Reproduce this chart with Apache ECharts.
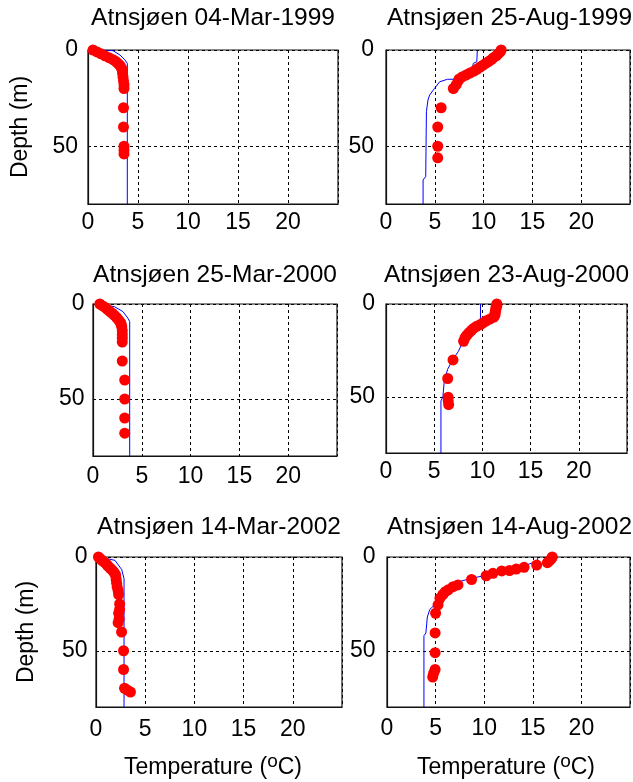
<!DOCTYPE html>
<html>
<head>
<meta charset="utf-8">
<script src="https://cdn.jsdelivr.net/npm/echarts@6/dist/echarts.min.js"></script>
<style>html,body{margin:0;padding:0;background:#fff}#c{width:633px;height:782px}</style>
</head>
<body>
<div id="c"></div>
<script>
// ---------- DATA ----------
const titles = ['Atnsjøen 04-Mar-1999','Atnsjøen 25-Aug-1999','Atnsjøen 25-Mar-2000','Atnsjøen 23-Aug-2000','Atnsjøen 14-Mar-2002','Atnsjøen 14-Aug-2002'];
const xTicks = [0,5,10,15,20];
const yTicks = [0,50];
const yLabel = 'Depth (m)';

// observations: [temperature, depth]
const obs1 = [[0.5,0],[0.9,1],[1.3,2],[1.7,3],[2.1,4],[2.5,5],[2.8,6],[3.0,7],[3.2,8],[3.3,9],[3.4,10],[3.45,12],[3.5,14],[3.55,16],[3.6,18],[3.6,20],[3.55,30],[3.55,40],[3.6,50],[3.6,52],[3.6,54]];
const obs2 = [[11.8,0],[11.7,1],[11.5,2],[11.3,3],[11.0,4],[10.8,5],[10.5,6],[10.2,7],[9.9,8],[9.6,9],[9.3,10],[9.0,11],[8.6,12],[8.2,13],[7.8,14],[7.5,15],[7.4,16],[7.2,18],[6.9,20],[5.65,30],[5.3,40],[5.3,50],[5.3,56]];
const obs3 = [[0.7,0],[1.0,1],[1.3,2],[1.5,3],[1.75,4],[2.0,5],[2.2,6],[2.4,7],[2.55,8],[2.7,9],[2.85,10],[2.9,11],[2.95,12],[3.0,14],[3.0,16],[3.0,18],[3.0,20],[3.0,30],[3.25,40],[3.25,50],[3.25,60],[3.25,68]];
const obs4 = [[11.5,0],[11.5,1],[11.4,2],[11.4,3],[11.35,4],[11.3,5],[11.3,6],[11.2,7],[10.8,8],[10.4,9],[10.1,10],[9.8,11],[9.4,12],[9.1,13],[8.9,14],[8.7,15],[8.5,16],[8.35,17],[8.2,18],[8.05,20],[6.95,30],[6.4,40],[6.45,50],[6.45,52],[6.5,54]];
const obs5 = [[0.25,0],[0.45,1],[0.65,2],[0.9,3],[1.1,4],[1.25,5],[1.45,6],[1.65,7],[1.8,8],[1.95,9],[2.0,10],[2.05,12],[2.1,14],[2.15,16],[2.25,18],[2.3,20],[2.4,25],[2.4,28],[2.3,30],[2.35,33],[2.25,35],[2.6,40],[2.8,50],[2.8,60],[2.9,70],[3.2,71],[3.5,72]];
const obs6 = [[17.0,0],[16.9,1],[16.7,2],[16.5,3],[15.4,4.3],[14.1,5.5],[13.3,6.4],[12.6,7.2],[11.8,7.4],[10.9,8.7],[10.2,10],[8.7,12],[7.3,14.9],[6.8,15.8],[6.3,17.5],[6.0,18.5],[5.75,20],[5.45,22],[5.25,25.5],[5.0,30],[4.95,40.5],[4.95,51],[4.95,60],[4.8,62],[4.7,64]];

// model profiles: [temperature, depth]
const mod1 = [[1.0,0],[2.5,0.35],[3.2,2.6],[3.7,5.2],[3.93,6.9],[3.93,80]];
const mod2 = [[9.36,0],[9.3,6.1],[8.95,6.9],[8.8,10.8],[8.7,14.0],[8.2,15.2],[6.3,15.2],[5.5,16.5],[4.98,19.9],[4.47,23.4],[4.3,26],[4.14,32],[4.07,65.8],[3.8,67.5],[3.8,80]];
const mod3 = [[0.2,0],[2.2,1.4],[3.07,4],[3.58,7.5],[3.76,9.3],[3.76,80]];
const mod4 = [[9.8,0],[9.8,7.7],[9.4,12],[8.6,16],[8.0,20],[7.5,25.5],[6.9,30],[6.4,35],[6.05,41],[5.9,50],[5.7,52],[5.7,80]];
const mod5 = [[0.4,0],[1.93,1.8],[2.61,6.7],[2.85,11.5],[2.85,80]];
const mod6 = [[15.5,0],[15.5,2],[14.5,4],[13.0,6],[11.0,8],[10.0,10],[9.0,11],[7.5,13],[6.5,16],[5.6,20],[5.0,25],[4.4,28],[4.15,32],[4.0,40.5],[3.8,42],[3.8,80]];

const observations = [obs1,obs2,obs3,obs4,obs5,obs6];
const models = [mod1,mod2,mod3,mod4,mod5,mod6];

// ---------- LAYOUT ----------
const FONT = 'Liberation Sans, Arial, Helvetica, sans-serif';
const FS = 23;
const TFS = 24.5;
const panels = [
  {l:88, t:50, w:250, h:154, mx:7.5, my:10, ty:18.5},
  {l:386, t:50, w:247, h:154, mx:7.5, my:12, ty:18.5},
  {l:93, t:304, w:244, h:152, mx:9.5, my:8.5, ty:275.5},
  {l:386, t:304, w:241, h:149, mx:7.5, my:11, ty:275.5},
  {l:96, t:557, w:246, h:150, mx:11, my:8.5, ty:527},
  {l:387, t:557, w:245, h:150, mx:10, my:11.5, ty:527}
];

const grid = [], xAxis = [], yAxis = [], series = [], graphic = [];
panels.forEach((p, i) => {
  grid.push({left:p.l, top:p.t, width:p.w, height:p.h, show:true, borderColor:'#111', borderWidth:1.2, backgroundColor:'transparent', containLabel:false});
  xAxis.push({
    gridIndex:i, type:'value', min:0, max:25, interval:5,
    axisLine:{show:true, onZero:false, lineStyle:{color:'#111', width:1.2}},
    axisTick:{show:false},
    axisLabel:{color:'#000', fontSize:FS, fontFamily:FONT, margin:p.mx, formatter:v => xTicks.includes(v) ? String(v) : ''},
    splitLine:{show:true, lineStyle:{color:'#000', width:1, type:[3,3]}}
  });
  yAxis.push({
    gridIndex:i, type:'value', min:0, max:80, interval:50, inverse:true,
    axisLine:{show:true, onZero:false, lineStyle:{color:'#111', width:1.2}},
    axisTick:{show:false},
    axisLabel:{color:'#000', fontSize:FS, fontFamily:FONT, margin:p.my, formatter:v => yTicks.includes(v) ? String(v) : ''},
    splitLine:{show:true, lineStyle:{color:'#000', width:1, type:[3,3]}}
  });
  series.push({
    type:'line', xAxisIndex:i, yAxisIndex:i, data:models[i], symbol:'none', showSymbol:false,
    lineStyle:{color:'#0000ff', width:1}, z:2, animation:false, silent:true
  });
  series.push({
    type:'scatter', xAxisIndex:i, yAxisIndex:i, data:observations[i], symbol:'circle', symbolSize:11,
    itemStyle:{color:'#ff0000', opacity:1}, z:3, animation:false, silent:true
  });
  graphic.push({
    type:'text', x:p.l + p.w/2, y:p.ty,
    style:{text:titles[i], font:TFS + 'px ' + FONT, fill:'#000', align:'center', verticalAlign:'middle', textAlign:'center', textVerticalAlign:'middle'}
  });
});

// y labels
[[21, 127],[27, 632]].forEach(([x, y]) => {
  graphic.push({type:'text', x:x, y:y, rotation:Math.PI/2,
    style:{text:yLabel, font:FS + 'px ' + FONT, fill:'#000', align:'center', verticalAlign:'middle', textAlign:'center', textVerticalAlign:'middle'}});
});
// x labels
[[213, 768],[506, 768]].forEach(([x, y]) => {
  graphic.push({type:'text', x:x, y:y,
    style:{text:'{a|Temperature (}{s|o}{a|C)}', fill:'#000', align:'center', verticalAlign:'middle', textAlign:'center', textVerticalAlign:'middle',
      rich:{a:{fontSize:FS, fontFamily:FONT, lineHeight:32, fill:'#000', color:'#000'}, s:{fontSize:19, fontFamily:FONT, lineHeight:15, verticalAlign:'top', fill:'#000', color:'#000'}}}});
});

const chart = echarts.init(document.getElementById('c'), null, {renderer:'canvas'});
chart.setOption({animation:false, backgroundColor:'#fff', grid, xAxis, yAxis, series, graphic});
</script>
</body>
</html>
